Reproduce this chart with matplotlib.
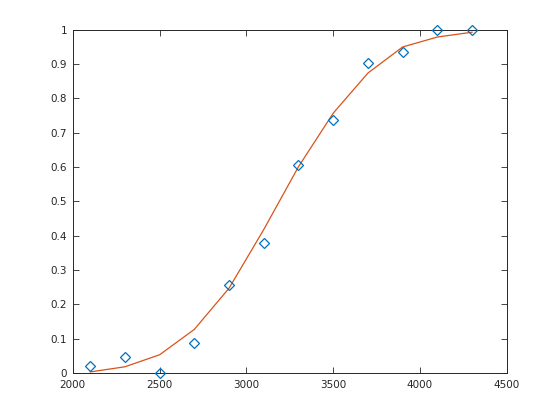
import matplotlib
matplotlib.use("Agg")
import matplotlib.pyplot as plt

x = [2100, 2300, 2500, 2700, 2900, 3100, 3300, 3500, 3700, 3900, 4100, 4300]
y_data = [0.020, 0.046, 0.000, 0.087, 0.256, 0.378, 0.606, 0.737, 0.903, 0.935, 0.999, 1.000]
y_fit = [0.003, 0.018, 0.053, 0.127, 0.247, 0.418, 0.601, 0.757, 0.874, 0.950, 0.979, 0.993]

xticks = [2000, 2500, 3000, 3500, 4000, 4500]
yticks = [0, 0.1, 0.2, 0.3, 0.4, 0.5, 0.6, 0.7, 0.8, 0.9, 1]
ylabels = ["0", "0.1", "0.2", "0.3", "0.4", "0.5", "0.6", "0.7", "0.8", "0.9", "1"]

fig = plt.figure(figsize=(5.6, 4.2), dpi=100)
ax = fig.add_axes([0.13, 0.112, 0.775, 0.817])

ax.plot(x, y_data, "D", mfc="none", mec="#0072BD", ms=5, mew=0.9, clip_on=False, zorder=3)
ax.plot(x, y_fit, "-", color="#D95319", lw=0.9)

ax.set_xlim(2000, 4500)
ax.set_ylim(0, 1)
ax.set_xticks(xticks)
ax.set_yticks(yticks)
ax.set_yticklabels(ylabels)
ax.tick_params(direction="in", top=True, right=True, length=4, width=0.6,
               colors="#262626", labelsize=7.5)
ax.tick_params(axis="x", pad=5)
ax.tick_params(axis="y", pad=4)
for s in ax.spines.values():
    s.set_color("#262626")
    s.set_linewidth(0.7)

fig.savefig("out.png", dpi=100)
